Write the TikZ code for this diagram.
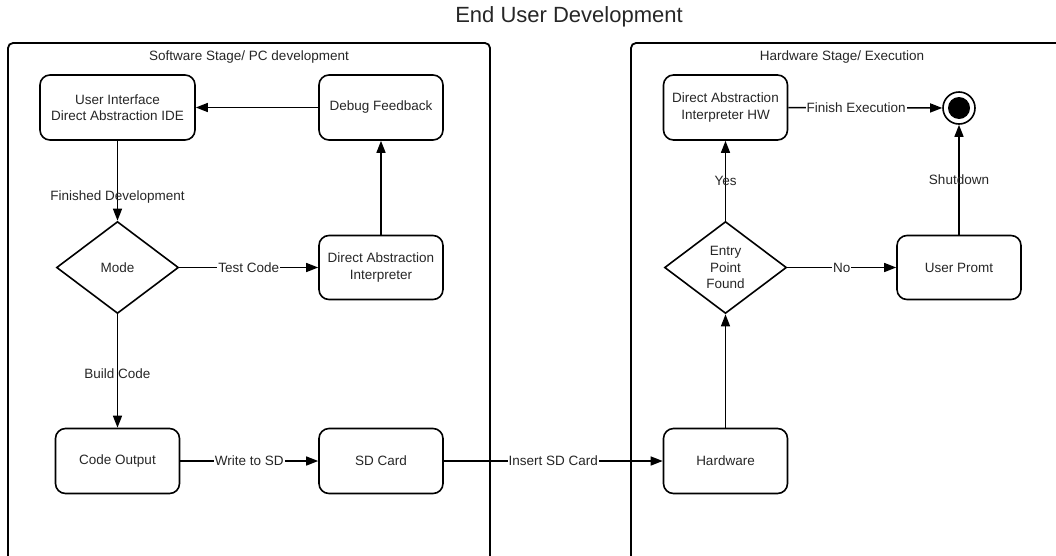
\documentclass[tikz,border=0pt]{standalone}
\usepackage{fontspec}
\setmainfont{Liberation Sans}
\usetikzlibrary{arrows.meta,shapes.geometric}
\begin{document}
\begin{tikzpicture}[x=1pt,y=-1pt,
  txt/.style={font=\fontsize{13.5}{16.5}\selectfont, text=black!85},
  box/.style={txt, draw, line width=1.6pt, rounded corners=10pt, minimum width=124pt, minimum height=65pt, align=center, inner sep=2pt},
  dec/.style={txt, draw, diamond, line width=1.6pt, minimum width=122pt, minimum height=92pt, inner sep=0pt, align=center, aspect=1.3},
  arr/.style={-{Triangle[length=12pt,width=9pt]}, line width=1.4pt},
  hl/.style={txt, fill=white, inner sep=1pt},
  vl/.style={txt, inner sep=1pt},
  frame/.style={draw, line width=1.8pt, rounded corners=5pt}
]
\useasboundingbox (0,0) rectangle (1056,555);
\begin{scope}
  \clip (0,0) rectangle (1056,555);
  \draw[frame] (8,43) rectangle (490,580);
  \draw[frame] (631,43) rectangle (1090,580);
\end{scope}
\node[font=\fontsize{22}{26}\selectfont, text=black!85] (title) at (569,17) {End User Development};
\node[txt] (swt) at (249,57) {Software Stage/ PC development};
\node[txt] (hwt) at (842,57) {Hardware Stage/ Execution};

\node[box, minimum width=155pt] (ui) at (117.5,107.5) {User Interface\\Direct Abstraction IDE};
\node[box] (debug) at (381,107.5) {Debug Feedback};
\node[dec] (mode) at (117.5,267.5) {Mode};
\node[box, minimum height=64pt] (dai) at (381,267.5) {Direct Abstraction\\Interpreter};
\node[box] (code) at (117.5,461) {Code Output};
\node[box] (sd) at (381,461) {SD Card};

\node[box] (dahw) at (725.5,107.5) {Direct Abstraction\\Interpreter HW};
\node[draw, circle, line width=1.6pt, minimum size=32pt, inner sep=0pt] (end) at (959,108) {};
\node[circle, fill=black, minimum size=22pt, inner sep=0pt] (endin) at (end.center) {};
\node[dec] (entry) at (725.5,267.5) {Entry\\Point\\Found};
\node[box, minimum height=64pt] (prompt) at (959,267.5) {User Promt};
\node[box] (hw) at (725.5,461) {Hardware};

\draw[arr] (debug) -- (ui);
\draw[arr] (ui) -- node[vl, pos=0.7] {Finished Development} (mode);
\draw[arr] (mode) -- node[hl] {Test Code} (dai);
\draw[arr] (dai) -- (debug);
\draw[arr] (mode) -- node[vl, pos=0.52] {Build Code} (code);
\draw[arr] (code) -- node[hl] {Write to SD} (sd);
\draw[arr] (sd) -- node[hl] {Insert SD Card} (hw);
\draw[arr] (hw) -- (entry);
\draw[arr] (entry) -- node[vl] {Yes} (dahw);
\draw[arr] (entry) -- node[hl] {No} (prompt);
\draw[arr] (prompt) -- node[vl] {Shutdown} (end);
\draw[arr] (dahw) -- node[hl, pos=0.44] {Finish Execution} (end);
\end{tikzpicture}
\end{document}
